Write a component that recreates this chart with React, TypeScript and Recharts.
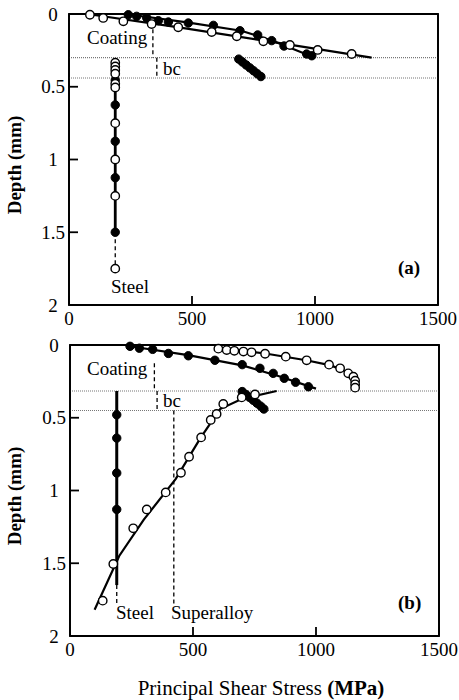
import React from 'react';
import { ScatterChart, Scatter, XAxis, YAxis, ReferenceLine, ReferenceArea } from 'recharts';

type Pair = [number, number];

const STRESS_TICKS = [0, 500, 1000, 1500];
const DEPTH_TICKS = [0, 0.5, 1, 1.5, 2];

// panel (a): stress (MPa), depth (mm)
const aCoatOpen: Pair[] = [[85, 0.005], [139, 0.027], [221, 0.05], [336, 0.069], [444, 0.091], [580, 0.124], [682, 0.153], [790, 0.188], [898, 0.213], [1011, 0.247], [1149, 0.275]];
const aCoatOpenFit: Pair[] = [[75, 0], [440, 0.09], [800, 0.185], [1230, 0.3]];
const aCoatFill: Pair[] = [[241, 0.005], [275, 0.016], [316, 0.027], [363, 0.046], [404, 0.055], [485, 0.062], [587, 0.078], [695, 0.115], [767, 0.144], [824, 0.183], [874, 0.22], [966, 0.275], [987, 0.287]];
const aCoatFillFit: Pair[] = [[230, 0], [480, 0.058], [700, 0.115], [830, 0.185], [1000, 0.3]];
const aBcFill: Pair[] = [[690, 0.31], [705, 0.33], [720, 0.35], [735, 0.37], [750, 0.39], [765, 0.41], [780, 0.43]];
const aBcFit: Pair[] = [[685, 0.3], [785, 0.44]];
const aSteelOpen: Pair[] = [[188, 0.335], [188, 0.36], [188, 0.385], [188, 0.41], [188, 0.48], [188, 0.505], [188, 0.75], [188, 1.0], [188, 1.25], [188, 1.75]];
const aSteelFill: Pair[] = [[188, 0.455], [188, 0.625], [188, 0.875], [188, 1.125], [188, 1.5]];
const aSteelFit: Pair[] = [[188, 0.33], [188, 1.5]];
const aSteelDash: Pair[] = [[188, 1.5], [188, 1.75]];

// panel (b)
const bCoatOpen: Pair[] = [[603, 0.025], [637, 0.035], [668, 0.04], [705, 0.045], [738, 0.05], [793, 0.06], [877, 0.08], [962, 0.105], [1053, 0.135], [1098, 0.16], [1131, 0.195], [1152, 0.218], [1159, 0.245], [1159, 0.27], [1159, 0.293]];
const bCoatOpenFit: Pair[] = [[590, 0.015], [800, 0.06], [960, 0.105], [1060, 0.14], [1120, 0.18], [1155, 0.23], [1162, 0.3]];
const bCoatFill: Pair[] = [[244, 0.009], [282, 0.022], [336, 0.03], [400, 0.058], [481, 0.074], [589, 0.105], [700, 0.135], [772, 0.16], [826, 0.195], [871, 0.229], [917, 0.256], [969, 0.287]];
const bCoatFillFit: Pair[] = [[230, 0.005], [480, 0.07], [700, 0.14], [850, 0.215], [1000, 0.3]];
const bBcFill: Pair[] = [[700, 0.32], [715, 0.34], [730, 0.36], [745, 0.38], [760, 0.4], [775, 0.42], [788, 0.44]];
const bBcFit: Pair[] = [[695, 0.315], [790, 0.445]];
const bSuperOpen: Pair[] = [[752, 0.34], [698, 0.36], [623, 0.405], [596, 0.474], [572, 0.515], [533, 0.635], [484, 0.768], [451, 0.878], [389, 1.013], [312, 1.13], [257, 1.26], [176, 1.505], [133, 1.757]];
const bSuperFit: Pair[] = [[840, 0.316], [700, 0.37], [610, 0.44], [530, 0.64], [430, 0.92], [300, 1.2], [200, 1.45], [100, 1.82]];
const bSteelFill: Pair[] = [[190, 0.48], [190, 0.64], [190, 0.88], [190, 1.13]];
const bSteelFit: Pair[] = [[190, 0.316], [190, 1.65]];
const bSteelDash: Pair[] = [[190, 1.65], [190, 1.78]];

const FONT = '"Liberation Serif", "Times New Roman", serif';

const toPts = (pairs: Pair[]) => pairs.map(([x, y]) => ({ x, y }));

const noDot = () => <g />;
const openDot = (p: any) => <circle cx={p.cx} cy={p.cy} r={4.2} fill="#fff" stroke="#000" strokeWidth={1.4} />;
const fillDot = (p: any) => <circle cx={p.cx} cy={p.cy} r={4.2} fill="#000" stroke="#000" strokeWidth={1} />;

interface FitLine { pts: Pair[]; width: number; dashed?: boolean }
interface Guide { x: number; from: number; to: number }

interface PanelProps {
  height: number;
  top: number;
  axisWidth: number;
  xAxisHeight: number;
  rightMargin: number;
  tickGap: number;
  fits: FitLine[];
  open: Pair[][];
  filled: Pair[][];
  interfaces: number[];
  guides: Guide[];
}

function Panel({ height, top, axisWidth, xAxisHeight, rightMargin, tickGap, fits, open, filled, interfaces, guides }: PanelProps) {
  const tickStyle = { fill: '#000', fontSize: 19, fontFamily: FONT };
  const depthTick = (p: any) => (
    <text x={p.x} y={p.y} dy="0.35em" textAnchor="middle" fill="#000" fontSize={19} fontFamily={FONT}>
      {p.payload.value}
    </text>
  );
  return (
    <ScatterChart width={459} height={height} margin={{ top, right: rightMargin, bottom: 0, left: 0 }}>
      <XAxis
        type="number"
        dataKey="x"
        domain={[0, 1500]}
        ticks={STRESS_TICKS}
        height={xAxisHeight}
        tickSize={-9}
        tickMargin={tickGap}
        tick={tickStyle}
        stroke="#000"
        strokeWidth={1.8}
      />
      <YAxis
        yAxisId="d"
        type="number"
        dataKey="y"
        domain={[0, 2]}
        ticks={DEPTH_TICKS}
        reversed
        width={axisWidth}
        tickSize={-9}
        tickMargin={25}
        tick={depthTick}
        stroke="#000"
        strokeWidth={1.8}
      />
      <YAxis
        yAxisId="r"
        orientation="right"
        type="number"
        domain={[0, 2]}
        ticks={DEPTH_TICKS}
        reversed
        width={1}
        tickSize={-9}
        tick={false}
        stroke="#000"
        strokeWidth={1.8}
      />
      <ReferenceArea yAxisId="d" x1={0} x2={1500} y1={0} y2={2} fill="none" stroke="#000" strokeWidth={1.8} fillOpacity={0} ifOverflow="visible" />
      {interfaces.map((d, i) => (
        <ReferenceLine key={`if-${i}`} yAxisId="d" y={d} stroke="#777" strokeWidth={1.2} strokeDasharray="1 1" />
      ))}
      {guides.map((g, i) => (
        <ReferenceLine
          key={`g-${i}`}
          yAxisId="d"
          segment={[{ x: g.x, y: g.from }, { x: g.x, y: g.to }]}
          stroke="#000"
          strokeWidth={1.3}
          strokeDasharray="4 3"
        />
      ))}
      {fits.map((f, i) => (
        <Scatter
          key={`fit-${i}`}
          yAxisId="d"
          data={toPts(f.pts)}
          shape={noDot}
          line={{ stroke: '#000', strokeWidth: f.width, strokeDasharray: f.dashed ? '4 3' : undefined }}
          lineType="joint"
          isAnimationActive={false}
        />
      ))}
      {filled.map((s, i) => (
        <Scatter key={`f-${i}`} yAxisId="d" data={toPts(s)} shape={fillDot} isAnimationActive={false} />
      ))}
      {open.map((s, i) => (
        <Scatter key={`o-${i}`} yAxisId="d" data={toPts(s)} shape={openDot} isAnimationActive={false} />
      ))}
    </ScatterChart>
  );
}

const textBase: React.CSSProperties = {
  position: 'absolute',
  fontFamily: FONT,
  fontSize: 19,
  lineHeight: '20px',
  whiteSpace: 'nowrap',
  color: '#000',
};

function Note({ left, top, bold, children }: { left: number; top: number; bold?: boolean; children: React.ReactNode }) {
  return <span style={{ ...textBase, left, top, fontWeight: bold ? 700 : 400 }}>{children}</span>;
}

function DepthTitle({ cy }: { cy: number }) {
  return (
    <span
      style={{
        ...textBase,
        left: 15,
        top: cy,
        fontWeight: 700,
        transform: 'translate(-50%, -50%) rotate(-90deg)',
      }}
    >
      Depth (mm)
    </span>
  );
}

export default function App() {
  return (
    <div style={{ position: 'absolute', left: 0, top: 0, width: 459, height: 700, background: '#fff', overflow: 'hidden' }}>
      <div style={{ position: 'absolute', left: 0, top: 0 }}>
        <Panel
          height={330}
          top={14}
          axisWidth={69}
          xAxisHeight={25}
          rightMargin={20}
          tickGap={16}
          fits={[
            { pts: aCoatOpenFit, width: 2.2 },
            { pts: aCoatFillFit, width: 2.2 },
            { pts: aBcFit, width: 2.2 },
            { pts: aSteelFit, width: 2.8 },
            { pts: aSteelDash, width: 1.3, dashed: true },
          ]}
          open={[aCoatOpen, aSteelOpen]}
          filled={[aCoatFill, aBcFill, aSteelFill]}
          interfaces={[0.3, 0.44]}
          guides={[
            { x: 341, from: 0.105, to: 0.3 },
            { x: 357, from: 0.3, to: 0.44 },
          ]}
        />
      </div>
      <div style={{ position: 'absolute', left: 0, top: 330 }}>
        <Panel
          height={332}
          top={15}
          axisWidth={70}
          xAxisHeight={26}
          rightMargin={19}
          tickGap={16}
          fits={[
            { pts: bCoatOpenFit, width: 2.2 },
            { pts: bCoatFillFit, width: 2.2 },
            { pts: bBcFit, width: 2.2 },
            { pts: bSuperFit, width: 2.2 },
            { pts: bSteelFit, width: 3 },
            { pts: bSteelDash, width: 1.3, dashed: true },
          ]}
          open={[bCoatOpen, bSuperOpen]}
          filled={[bCoatFill, bBcFill, bSteelFill]}
          interfaces={[0.316, 0.45]}
          guides={[
            { x: 343, from: 0.125, to: 0.316 },
            { x: 354, from: 0.316, to: 0.45 },
            { x: 422, from: 0.45, to: 1.78 },
          ]}
        />
      </div>

      <DepthTitle cy={165} />
      <DepthTitle cy={496} />

      <Note left={87} top={28}>Coating</Note>
      <Note left={163} top={59}>bc</Note>
      <Note left={111} top={277}>Steel</Note>
      <Note left={398} top={258} bold>(a)</Note>

      <Note left={87} top={359}>Coating</Note>
      <Note left={163} top={391}>bc</Note>
      <Note left={116} top={603}>Steel</Note>
      <Note left={171} top={603}>Superalloy</Note>
      <Note left={398} top={593} bold>(b)</Note>

      <span style={{ ...textBase, left: 261, top: 677, fontSize: 21, lineHeight: '22px', transform: 'translateX(-50%)' }}>
        Principal Shear Stress <b>(MPa)</b>
      </span>
    </div>
  );
}
